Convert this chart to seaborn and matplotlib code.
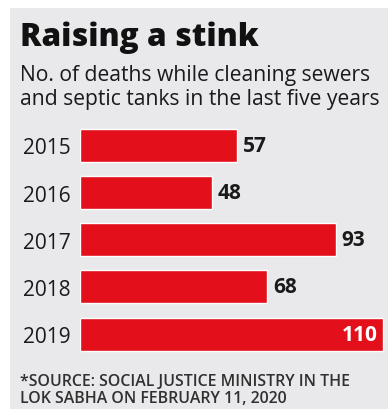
import matplotlib
matplotlib.use("Agg")
import matplotlib.pyplot as plt
import seaborn as sns
import pandas as pd
from matplotlib.patches import Rectangle

years = ["2015", "2016", "2017", "2018", "2019"]
deaths = [57, 48, 93, 68, 110]

title = "Raising a stink"
subtitle = ["No. of deaths while cleaning sewers", "and septic tanks in the last five years"]
source = ["*SOURCE: SOCIAL JUSTICE MINISTRY IN THE", "LOK SABHA ON FEBRUARY 11, 2020"]

sns.set_theme(style="white")
plt.rcParams['font.family'] = ['Open Sans', 'DejaVu Sans']

W, H = 388, 410
fig = plt.figure(figsize=(W / 100, H / 100), dpi=100, facecolor="white")
fig.patches.append(Rectangle((10 / W, 0), 1, 1 - 9 / H, transform=fig.transFigure,
                             facecolor="#e9e9ec", edgecolor="none", zorder=-5))

ax = fig.add_axes([80 / W, 1 - 358.6 / H, 1 - 80 / W, (358.6 - 122.9) / H])
ax.set_zorder(2)
ax.set_facecolor("none")
df = pd.DataFrame({"year": years, "deaths": deaths})
sns.barplot(data=df, x="deaths", y="year", color="#e3101b", saturation=1, width=0.7,
            ax=ax, orient="h")
ax.set_xlim(0, 111.8)
ax.set_xlabel("")
ax.set_ylabel("")
ax.set_xticks([])
ax.tick_params(axis="y", length=0, pad=7, labelsize=15, labelcolor="#1a1a1a")
for s in ax.spines.values():
    s.set_visible(False)

for i, v in enumerate(deaths):
    if v == max(deaths):
        ax.text(v - 2, i, str(v), ha="right", va="center", color="white",
                fontsize=15, fontweight="bold")
    else:
        ax.text(v + 2, i, str(v), ha="left", va="center", color="#1a1a1a",
                fontsize=15, fontweight="bold")

fig.text(20 / W, 1 - 46 / H, title, fontsize=22.8, fontweight="heavy", color="#111111",
         ha="left", va="baseline")
fig.text(20 / W, 1 - 81 / H, subtitle[0], fontsize=15.2, color="#1a1a1a", ha="left", va="baseline")
fig.text(20 / W, 1 - 105 / H, subtitle[1], fontsize=15.2, color="#1a1a1a", ha="left", va="baseline")
fig.text(20 / W, 1 - 386 / H, source[0], fontsize=11.4, color="#303030", fontweight="semibold",
         ha="left", va="baseline")
fig.text(20 / W, 1 - 403 / H, source[1], fontsize=11.4, color="#303030", fontweight="semibold",
         ha="left", va="baseline")

fig.savefig("out.png", dpi=100, facecolor="white")
